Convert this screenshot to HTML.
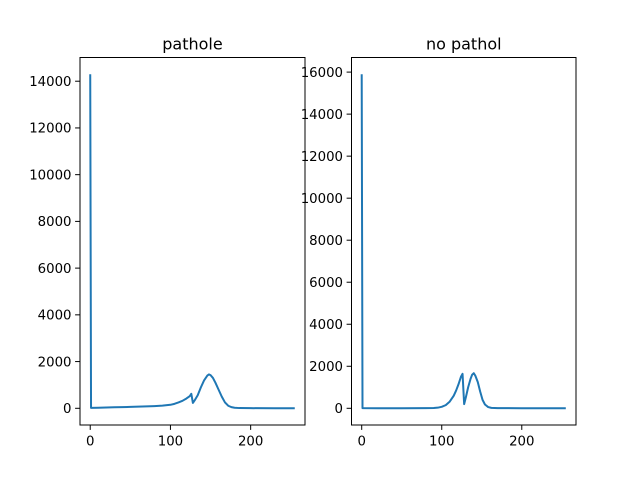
<!DOCTYPE html>
<html><head><meta charset="utf-8"><style>
body{margin:0;background:#fff;}
svg{display:block;font-family:"DejaVu Sans","Liberation Sans",sans-serif;}
</style></head><body>
<svg id="fig" width="640" height="478" viewBox="0 0 640 478"></svg>
<script>
// Left chart data (bin index, count)
const leftBins   = [0,1,10,20,30,40,50,60,70,80,90,100,105,110,115,120,124,126,128,130,134,138,142,146,148,150,153,156,160,164,168,172,176,180,186,200,230,255];
const leftCounts = [14300,20,25,35,45,50,60,70,80,95,115,150,190,250,320,420,520,620,230,330,560,900,1200,1400,1450,1420,1300,1100,800,500,250,110,50,25,10,5,3,2];
const leftTicksY = [0,2000,4000,6000,8000,10000,12000,14000];
// Right chart data
const rightBins   = [0,1,20,50,80,90,95,100,105,110,115,118,121,124,126,128,130,133,136,138,140,142,145,148,151,154,158,162,170,200,255];
const rightCounts = [15900,10,5,5,8,15,30,70,150,320,600,850,1150,1500,1640,200,500,1000,1400,1600,1670,1550,1250,800,400,180,60,20,8,3,2];
const rightTicksY = [0,2000,4000,6000,8000,10000,12000,14000,16000];
const ticksX = [0,100,200];
const titles = ["pathole","no pathol"];

const NS="http://www.w3.org/2000/svg";
const svg=document.getElementById('fig');
function mk(t,a){const e=document.createElementNS(NS,t);for(const k in a)e.setAttribute(k,a[k]);return e;}

function panel(idx,box,ymin,ymax,bins,counts,ticksY){
  const g=mk('g',{});
  
  
  svg.appendChild(g);
  const xmin=-12.75,xmax=267.75;
  const X=v=>box.x+(v-xmin)/(xmax-xmin)*box.w;
  const Y=v=>box.y+box.h-(v-ymin)/(ymax-ymin)*box.h;
  let pts=bins.map((b,i)=>X(b).toFixed(2)+','+Y(counts[i]).toFixed(2)).join(' ');
  const line=mk('polyline',{points:pts,fill:'none',stroke:'#1f77b4','stroke-width':2,'stroke-linejoin':'round'});
  
  
  g.appendChild(line);
  const fr=mk('rect',{x:box.x,y:box.y,width:box.w,height:box.h,fill:'none',stroke:'#000','stroke-width':1});
  
  
  g.appendChild(fr);
  ticksX.forEach(t=>{
    g.appendChild(mk('line',{x1:X(t),x2:X(t),y1:box.y+box.h,y2:box.y+box.h+4.9,stroke:'#000','stroke-width':1}));
    const tx=mk('text',{x:X(t),y:box.y+box.h+20.5,'text-anchor':'middle','font-size':13.3});
    tx.textContent=t;
    
    
    g.appendChild(tx);
  });
  ticksY.forEach(t=>{
    g.appendChild(mk('line',{x1:box.x-4.9,x2:box.x,y1:Y(t),y2:Y(t),stroke:'#000','stroke-width':1}));
    const tx=mk('text',{x:box.x-8.5,y:Y(t)+4.8,'text-anchor':'end','font-size':13.3});
    tx.textContent=t;
    
    
    g.appendChild(tx);
  });
  const ti=mk('text',{x:box.x+box.w/2,y:box.y-8,'text-anchor':'middle','font-size':16});
  ti.textContent=titles[idx];
  
  
  g.appendChild(ti);
}
panel(0,{x:80,y:57.5,w:225,h:367.5},-715,15015,leftBins,leftCounts,leftTicksY);
panel(1,{x:351.5,y:57.5,w:224.5,h:367.5},-795,16695,rightBins,rightCounts,rightTicksY);
</script>
</body></html>
